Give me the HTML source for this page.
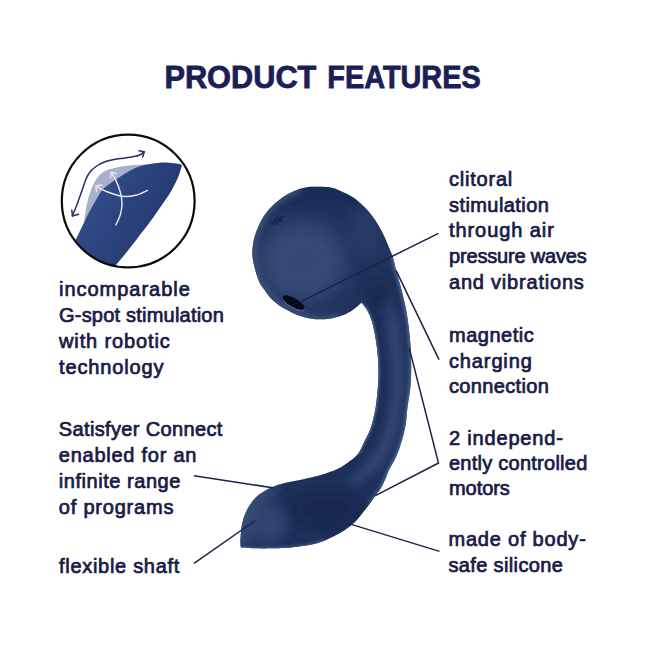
<!DOCTYPE html>
<html><head><meta charset="utf-8"><style>
html,body{margin:0;padding:0;background:#ffffff;}
svg{display:block;}
.t text{font-family:"Liberation Sans",sans-serif;font-size:20px;fill:#191b45;stroke:#191b45;stroke-width:0.72px;}
</style></head><body>
<svg width="645" height="645" viewBox="0 0 645 645">
<defs>
 <clipPath id="circClip"><circle cx="128.2" cy="201" r="66"/></clipPath>
 <linearGradient id="insetG" gradientUnits="userSpaceOnUse" x1="85" y1="185" x2="170" y2="230"><stop offset="0" stop-color="#33508c"/><stop offset="0.4" stop-color="#2b4580"/><stop offset="0.7" stop-color="#283f77"/><stop offset="1" stop-color="#1f376c"/></linearGradient>
 <clipPath id="silClip"><path d="M309.5,186.8 C313.0,186.9 324.4,186.3 330.5,187.4 C336.6,188.5 341.4,191.3 346.0,193.6 C350.6,195.9 354.5,198.3 358.4,201.4 C362.3,204.5 366.2,208.6 369.3,212.2 C372.4,215.8 374.7,219.4 377.0,223.0 C379.3,226.6 381.4,230.4 383.2,234.0 C385.0,237.6 386.3,241.1 387.9,244.8 C389.4,248.5 391.1,251.8 392.5,256.0 C393.9,260.2 394.7,265.0 396.0,270.0 C397.3,275.0 399.1,280.7 400.5,286.0 C401.9,291.3 403.3,296.7 404.5,302.0 C405.7,307.3 406.7,312.7 407.5,318.0 C408.3,323.3 408.9,328.5 409.5,334.0 C410.1,339.5 410.5,345.0 410.8,351.0 C411.1,357.0 411.3,363.8 411.2,370.0 C411.1,376.2 411.0,381.3 410.3,388.0 C409.6,394.7 407.9,404.3 407.2,410.0 C406.5,415.7 406.6,418.3 406.0,422.4 C405.4,426.5 404.5,430.7 403.5,434.8 C402.5,438.9 401.2,443.1 399.8,447.2 C398.4,451.3 396.6,455.8 394.8,459.6 C393.0,463.4 390.6,466.7 389.0,470.0 C387.4,473.3 386.7,476.2 385.3,479.3 C383.9,482.4 382.4,485.8 380.7,488.6 C379.0,491.4 377.1,493.2 375.1,496.0 C373.1,498.8 370.9,502.2 368.6,505.3 C366.3,508.4 363.8,511.6 361.2,514.7 C358.6,517.8 356.3,521.0 352.8,524.0 C349.3,527.0 344.3,530.4 340.0,533.0 C335.7,535.6 331.1,537.7 327.0,539.5 C322.9,541.3 320.7,542.5 315.1,543.8 C309.5,545.1 300.6,546.5 293.4,547.2 C286.2,548.0 278.2,548.1 271.7,548.3 C265.2,548.5 259.5,548.4 254.4,548.3 C249.3,548.2 243.2,547.7 241.0,547.6 L240.5,546 C240.5,544.7 240.2,541.8 240.5,538.0 C240.8,534.2 241.2,527.7 242.3,523.0 C243.4,518.3 245.0,514.0 247.0,510.0 C249.0,506.0 251.6,502.1 254.4,499.0 C257.2,495.9 260.3,493.8 263.7,491.6 C267.1,489.4 270.9,487.6 275.0,486.0 C279.1,484.4 283.1,483.5 288.0,482.3 C292.9,481.1 298.7,480.3 304.3,479.0 C309.9,477.7 316.2,476.3 321.6,474.7 C327.0,473.1 332.5,471.3 336.8,469.3 C341.1,467.3 344.2,465.4 347.7,462.8 C351.2,460.2 355.1,457.8 358.0,454.0 C360.9,450.2 363.1,444.0 365.1,440.0 C367.1,436.0 368.6,433.7 370.0,430.0 C371.4,426.3 372.5,422.2 373.5,418.0 C374.5,413.8 375.2,410.5 376.0,405.0 C376.8,399.5 377.6,390.8 378.0,385.0 C378.4,379.2 378.6,375.7 378.5,370.0 C378.4,364.3 377.9,356.4 377.3,350.6 C376.7,344.8 375.9,339.9 375.0,335.0 C374.1,330.1 373.2,325.3 371.9,321.2 C370.6,317.1 368.9,313.4 367.2,310.3 C365.5,307.2 362.4,304.1 361.5,302.8 C360.6,303.5 358.5,305.6 356.4,307.2 C354.2,308.8 351.5,311.1 348.6,312.6 C345.8,314.2 343.2,315.4 339.3,316.5 C335.4,317.6 329.9,318.9 325.0,319.2 C320.1,319.5 314.8,319.1 310.0,318.4 C305.2,317.6 300.3,316.1 296.5,314.7 C292.7,313.3 290.3,311.7 287.2,310.0 C284.1,308.3 280.7,306.4 277.9,304.4 C275.1,302.4 272.7,300.2 270.5,297.9 C268.3,295.6 266.8,293.1 264.9,290.5 C263.0,287.9 260.9,285.5 259.3,282.1 C257.7,278.7 256.4,274.1 255.3,270.0 C254.2,265.9 253.1,261.1 252.6,257.4 C252.1,253.7 252.3,251.4 252.6,248.0 C252.9,244.6 253.5,240.7 254.5,237.0 C255.5,233.3 256.9,229.6 258.6,225.9 C260.3,222.2 262.3,218.2 264.8,214.7 C267.3,211.2 270.2,207.9 273.5,204.8 C276.8,201.7 280.8,198.5 284.7,196.0 C288.6,193.5 292.9,191.4 297.0,189.9 C301.1,188.4 307.4,187.3 309.5,186.8 Z"/></clipPath>
 <filter id="blur3" x="-50%" y="-50%" width="200%" height="200%"><feGaussianBlur stdDeviation="3"/></filter>
 <filter id="blur6" x="-50%" y="-50%" width="200%" height="200%"><feGaussianBlur stdDeviation="6"/></filter>
 <filter id="blur14" x="-50%" y="-50%" width="200%" height="200%"><feGaussianBlur stdDeviation="14"/></filter>
 <filter id="blur10" x="-50%" y="-50%" width="200%" height="200%"><feGaussianBlur stdDeviation="10"/></filter>
 <filter id="blur2" x="-50%" y="-50%" width="200%" height="200%"><feGaussianBlur stdDeviation="1.8"/></filter>
 <filter id="blur4" x="-50%" y="-50%" width="200%" height="200%"><feGaussianBlur stdDeviation="4"/></filter>
 <filter id="blur1" x="-50%" y="-50%" width="200%" height="200%"><feGaussianBlur stdDeviation="1.2"/></filter>
</defs>

<g style="font-family:'Liberation Sans',sans-serif;font-weight:bold;font-size:30.5px;fill:#1b1f55;stroke:#1b1f55;stroke-width:0.8px">
<text x="164.4" y="87.8" textLength="152" lengthAdjust="spacingAndGlyphs">PRODUCT</text>
<text x="327.3" y="87.8" textLength="153.4" lengthAdjust="spacingAndGlyphs">FEATURES</text>
</g>

<!-- inset circle -->
<g clip-path="url(#circClip)">
 <path d="M84.0,226.0 C84.2,224.1 84.5,218.7 85.0,214.8 C85.5,210.9 86.3,206.5 87.3,202.4 C88.3,198.3 89.5,193.8 91.0,190.0 C92.5,186.2 93.9,182.8 96.0,179.7 C98.1,176.6 100.4,173.6 103.5,171.7 C106.6,169.8 110.3,169.0 114.6,168.0 C118.9,167.0 123.6,166.1 129.5,165.5 C135.4,164.9 144.1,164.6 150.0,164.3 C155.9,164.0 162.5,163.6 165.0,163.5 L165,175 L100,215 Z" fill="#a7b1cc"/>
 <path d="M144.1,165.1 C146.4,164.8 156.9,162.8 161.2,162.6 C165.5,162.4 173.3,163.2 176.0,163.5 C178.7,163.8 181.0,164.2 181.6,165.1 C182.2,166.0 181.0,168.4 180.5,170.0 C180.0,171.6 179.4,174.3 178.2,177.1 C177.0,179.9 173.7,186.8 171.4,190.7 C169.1,194.6 164.2,201.7 161.2,206.0 C158.2,210.3 152.4,218.8 149.2,223.1 C146.0,227.4 140.5,234.4 137.3,238.5 C134.1,242.6 128.1,250.4 125.4,253.8 C122.7,257.2 119.1,261.0 116.8,264.0 C114.5,267.0 109.2,274.4 108.0,276.0 L60,276 L70,250 C76.7,238.2 78.5,234.1 79.9,231.0 C81.4,227.9 83.2,224.3 84.8,221.0 C86.4,217.7 87.9,214.6 89.8,211.1 C91.7,207.6 93.9,203.4 96.0,199.9 C98.1,196.4 100.0,192.7 102.2,190.0 C104.5,187.3 106.5,186.2 109.5,184.0 C112.5,181.8 116.4,179.0 120.4,176.5 C124.4,174.0 129.5,170.9 133.4,169.0 C137.3,167.1 142.3,165.8 144.1,165.1 Z" fill="url(#insetG)"/>
 <path d="M72.4,216.0 C73.2,213.9 75.7,207.9 77.4,203.4 C79.1,198.9 81.1,193.1 82.5,189.0 C83.9,184.9 84.8,181.8 86.0,179.0 C87.2,176.2 88.3,174.1 90.0,172.0 C91.7,169.9 93.5,168.2 96.0,166.5 C98.5,164.8 102.0,163.0 105.0,161.8 C108.0,160.7 110.4,160.3 114.0,159.6 C117.6,158.9 122.5,158.4 126.5,157.7 C130.6,157.0 135.4,156.5 138.3,155.5 C141.2,154.5 143.2,152.4 144.2,151.8" fill="none" stroke="#282d66" stroke-width="1.5" stroke-linecap="round"/>
 <path d="M71.8,210 L72.4,216 L78.6,214.2 M139,150.8 L144.2,151.8 L142.7,157" fill="none" stroke="#282d66" stroke-width="1.5" stroke-linecap="round" stroke-linejoin="round"/>
 <path d="M111.2,172.5 C112.0,173.8 114.5,177.3 116.0,180.6 C117.5,183.9 119.4,188.7 120.4,192.5 C121.4,196.3 122.0,199.8 122.0,203.4 C122.0,207.0 121.4,210.6 120.4,214.2 C119.4,217.8 116.7,223.2 116.0,225.0" fill="none" stroke="#e4e9f3" stroke-width="1.4" stroke-linecap="round"/>
 <path d="M96.0,186.0 C97.7,186.9 101.9,189.8 106.3,191.5 C110.7,193.2 117.6,195.7 122.5,196.3 C127.4,196.9 131.4,196.3 135.6,195.3 C139.8,194.3 145.5,191.2 147.5,190.4" fill="none" stroke="#e4e9f3" stroke-width="1.4" stroke-linecap="round"/>
 <path d="M110.6,177.4 L111.2,172.5 L116.6,173.6 M96.5,191.5 L96,186 L102,185" fill="none" stroke="#e4e9f3" stroke-width="1.4" stroke-linecap="round" stroke-linejoin="round"/>
</g>
<circle cx="128.2" cy="201" r="66.4" fill="none" stroke="#0c0c0c" stroke-width="2.2"/>

<!-- device -->
<path d="M309.5,186.8 C313.0,186.9 324.4,186.3 330.5,187.4 C336.6,188.5 341.4,191.3 346.0,193.6 C350.6,195.9 354.5,198.3 358.4,201.4 C362.3,204.5 366.2,208.6 369.3,212.2 C372.4,215.8 374.7,219.4 377.0,223.0 C379.3,226.6 381.4,230.4 383.2,234.0 C385.0,237.6 386.3,241.1 387.9,244.8 C389.4,248.5 391.1,251.8 392.5,256.0 C393.9,260.2 394.7,265.0 396.0,270.0 C397.3,275.0 399.1,280.7 400.5,286.0 C401.9,291.3 403.3,296.7 404.5,302.0 C405.7,307.3 406.7,312.7 407.5,318.0 C408.3,323.3 408.9,328.5 409.5,334.0 C410.1,339.5 410.5,345.0 410.8,351.0 C411.1,357.0 411.3,363.8 411.2,370.0 C411.1,376.2 411.0,381.3 410.3,388.0 C409.6,394.7 407.9,404.3 407.2,410.0 C406.5,415.7 406.6,418.3 406.0,422.4 C405.4,426.5 404.5,430.7 403.5,434.8 C402.5,438.9 401.2,443.1 399.8,447.2 C398.4,451.3 396.6,455.8 394.8,459.6 C393.0,463.4 390.6,466.7 389.0,470.0 C387.4,473.3 386.7,476.2 385.3,479.3 C383.9,482.4 382.4,485.8 380.7,488.6 C379.0,491.4 377.1,493.2 375.1,496.0 C373.1,498.8 370.9,502.2 368.6,505.3 C366.3,508.4 363.8,511.6 361.2,514.7 C358.6,517.8 356.3,521.0 352.8,524.0 C349.3,527.0 344.3,530.4 340.0,533.0 C335.7,535.6 331.1,537.7 327.0,539.5 C322.9,541.3 320.7,542.5 315.1,543.8 C309.5,545.1 300.6,546.5 293.4,547.2 C286.2,548.0 278.2,548.1 271.7,548.3 C265.2,548.5 259.5,548.4 254.4,548.3 C249.3,548.2 243.2,547.7 241.0,547.6 L240.5,546 C240.5,544.7 240.2,541.8 240.5,538.0 C240.8,534.2 241.2,527.7 242.3,523.0 C243.4,518.3 245.0,514.0 247.0,510.0 C249.0,506.0 251.6,502.1 254.4,499.0 C257.2,495.9 260.3,493.8 263.7,491.6 C267.1,489.4 270.9,487.6 275.0,486.0 C279.1,484.4 283.1,483.5 288.0,482.3 C292.9,481.1 298.7,480.3 304.3,479.0 C309.9,477.7 316.2,476.3 321.6,474.7 C327.0,473.1 332.5,471.3 336.8,469.3 C341.1,467.3 344.2,465.4 347.7,462.8 C351.2,460.2 355.1,457.8 358.0,454.0 C360.9,450.2 363.1,444.0 365.1,440.0 C367.1,436.0 368.6,433.7 370.0,430.0 C371.4,426.3 372.5,422.2 373.5,418.0 C374.5,413.8 375.2,410.5 376.0,405.0 C376.8,399.5 377.6,390.8 378.0,385.0 C378.4,379.2 378.6,375.7 378.5,370.0 C378.4,364.3 377.9,356.4 377.3,350.6 C376.7,344.8 375.9,339.9 375.0,335.0 C374.1,330.1 373.2,325.3 371.9,321.2 C370.6,317.1 368.9,313.4 367.2,310.3 C365.5,307.2 362.4,304.1 361.5,302.8 C360.6,303.5 358.5,305.6 356.4,307.2 C354.2,308.8 351.5,311.1 348.6,312.6 C345.8,314.2 343.2,315.4 339.3,316.5 C335.4,317.6 329.9,318.9 325.0,319.2 C320.1,319.5 314.8,319.1 310.0,318.4 C305.2,317.6 300.3,316.1 296.5,314.7 C292.7,313.3 290.3,311.7 287.2,310.0 C284.1,308.3 280.7,306.4 277.9,304.4 C275.1,302.4 272.7,300.2 270.5,297.9 C268.3,295.6 266.8,293.1 264.9,290.5 C263.0,287.9 260.9,285.5 259.3,282.1 C257.7,278.7 256.4,274.1 255.3,270.0 C254.2,265.9 253.1,261.1 252.6,257.4 C252.1,253.7 252.3,251.4 252.6,248.0 C252.9,244.6 253.5,240.7 254.5,237.0 C255.5,233.3 256.9,229.6 258.6,225.9 C260.3,222.2 262.3,218.2 264.8,214.7 C267.3,211.2 270.2,207.9 273.5,204.8 C276.8,201.7 280.8,198.5 284.7,196.0 C288.6,193.5 292.9,191.4 297.0,189.9 C301.1,188.4 307.4,187.3 309.5,186.8 Z" fill="#22345e"/>
<g clip-path="url(#silClip)">
 <ellipse cx="302" cy="262" rx="44" ry="40" fill="#394c77" filter="url(#blur10)" opacity="0.95"/>
 <ellipse cx="322" cy="196" rx="46" ry="12" fill="#172a55" filter="url(#blur6)" opacity="0.8"/>
 <ellipse cx="365" cy="232" rx="16" ry="26" fill="#2a3d68" filter="url(#blur6)" opacity="0.7"/>
 <path d="M300.0,189.0 C297.4,190.2 289.1,193.4 284.7,196.0 C280.3,198.6 276.8,201.7 273.5,204.8 C270.2,207.9 267.3,211.2 264.8,214.7 C262.3,218.2 260.3,222.2 258.6,225.9 C256.9,229.6 255.5,233.3 254.5,237.0 C253.5,240.7 252.9,244.6 252.6,248.0 C252.3,251.4 252.1,253.7 252.6,257.4 C253.1,261.1 254.2,265.9 255.3,270.0 C256.4,274.1 257.7,278.7 259.3,282.1 C260.9,285.5 263.0,287.9 264.9,290.5 C266.8,293.1 268.3,295.6 270.5,297.9 C272.7,300.2 275.1,302.4 277.9,304.4 C280.7,306.4 284.1,308.3 287.2,310.0 C290.3,311.7 292.7,313.3 296.5,314.7 C300.3,316.1 305.2,317.6 310.0,318.4 C314.8,319.1 320.1,319.5 325.0,319.2 C329.9,318.9 336.9,316.9 339.3,316.5" fill="none" stroke="#41577f" stroke-width="6" filter="url(#blur3)"/>
 <path d="M385.0,300.0 C386.2,303.7 390.2,314.0 392.0,322.0 C393.8,330.0 395.0,339.2 396.0,348.0 C397.0,356.8 398.0,365.5 398.0,375.0 C398.0,384.5 397.2,395.8 396.0,405.0 C394.8,414.2 393.3,422.2 391.0,430.0 C388.7,437.8 385.8,445.3 382.0,452.0 C378.2,458.7 373.3,464.7 368.0,470.0 C362.7,475.3 353.0,481.7 350.0,484.0" fill="none" stroke="#354a76" stroke-width="9" filter="url(#blur4)"/>
 <path d="M371.0,318.0 C372.0,320.5 375.5,327.3 377.0,333.0 C378.5,338.7 379.2,345.0 380.0,352.0 C380.8,359.0 381.8,367.0 382.0,375.0 C382.2,383.0 381.8,392.2 381.0,400.0 C380.2,407.8 378.8,415.3 377.0,422.0 C375.2,428.7 372.8,434.3 370.0,440.0 C367.2,445.7 364.2,451.3 360.0,456.0 C355.8,460.7 347.5,466.0 345.0,468.0" fill="none" stroke="#1b2b53" stroke-width="6" filter="url(#blur3)"/>
 <ellipse cx="377" cy="298" rx="12" ry="18" fill="#16264c" filter="url(#blur10)" opacity="0.9"/>
 <path d="M392.5,256.0 C393.1,258.3 394.7,265.0 396.0,270.0 C397.3,275.0 399.1,280.7 400.5,286.0 C401.9,291.3 403.3,296.7 404.5,302.0 C405.7,307.3 406.7,312.7 407.5,318.0 C408.3,323.3 408.9,328.5 409.5,334.0 C410.1,339.5 410.5,345.0 410.8,351.0 C411.1,357.0 411.3,363.8 411.2,370.0 C411.1,376.2 411.0,381.3 410.3,388.0 C409.6,394.7 407.9,404.3 407.2,410.0 C406.5,415.7 406.6,418.3 406.0,422.4 C405.4,426.5 404.5,430.7 403.5,434.8 C402.5,438.9 401.2,443.1 399.8,447.2 C398.4,451.3 396.6,455.8 394.8,459.6 C393.0,463.4 390.6,466.7 389.0,470.0 C387.4,473.3 386.7,476.2 385.3,479.3 C383.9,482.4 382.4,485.8 380.7,488.6 C379.0,491.4 377.1,493.2 375.1,496.0 C373.1,498.8 369.7,503.8 368.6,505.3" fill="none" stroke="#475f8c" stroke-width="4" filter="url(#blur2)"/>
 <path d="M361.5,302.8 C362.4,304.1 365.5,307.2 367.2,310.3 C368.9,313.4 370.6,317.1 371.9,321.2 C373.2,325.3 374.1,330.1 375.0,335.0 C375.9,339.9 376.7,344.8 377.3,350.6 C377.9,356.4 378.4,364.3 378.5,370.0 C378.6,375.7 378.4,379.2 378.0,385.0 C377.6,390.8 376.8,399.5 376.0,405.0 C375.2,410.5 374.5,413.8 373.5,418.0 C372.5,422.2 371.4,426.3 370.0,430.0 C368.6,433.7 367.1,436.0 365.1,440.0 C363.1,444.0 359.2,451.7 358.0,454.0" fill="none" stroke="#475f8e" stroke-width="3" filter="url(#blur1)"/>
 <ellipse cx="326" cy="510" rx="46" ry="24" fill="#17284e" filter="url(#blur14)" opacity="0.95"/>
 <ellipse cx="266" cy="522" rx="22" ry="20" fill="#33466f" filter="url(#blur6)" opacity="0.9"/>
 <path d="M241.0,547.6 C243.2,547.7 249.3,548.2 254.4,548.3 C259.5,548.4 265.2,548.5 271.7,548.3 C278.2,548.1 286.2,548.0 293.4,547.2 C300.6,546.4 309.8,544.8 315.1,543.5 C320.4,542.2 323.4,540.2 325.0,539.5" fill="none" stroke="#3a4f80" stroke-width="3" filter="url(#blur1)"/>
 <path d="M240.5,546.0 C240.5,544.7 240.2,541.8 240.5,538.0 C240.8,534.2 241.2,527.7 242.3,523.0 C243.4,518.3 245.0,514.0 247.0,510.0 C249.0,506.0 251.6,502.1 254.4,499.0 C257.2,495.9 260.3,493.8 263.7,491.6 C267.1,489.4 273.1,486.9 275.0,486.0" fill="none" stroke="#3a4f7c" stroke-width="12" filter="url(#blur6)"/>
 <path d="M264.0,283.0 C266.7,283.2 274.0,284.1 280.0,284.5 C286.0,284.9 293.7,285.2 300.0,285.5 C306.3,285.8 315.0,285.9 318.0,286.0" fill="none" stroke="#3d5283" stroke-width="1" opacity="0.5"/>
</g>
<g transform="rotate(30 293.7 302.6)">
 <ellipse cx="294.2" cy="303.3" rx="12.4" ry="5" fill="#7d90bb" opacity="0.55"/>
 <ellipse cx="293.7" cy="302.6" rx="12.4" ry="4.5" fill="#080b1c"/>
</g>
<path d="M271.3,222.6 L272.6,223.4 M273,224 C274.5,220.5 276,217.8 278.8,216.4 M276,224.4 C277.6,220.8 279.6,217.6 283.6,216.3 M279.6,220.9 L281.9,220.3" fill="none" stroke="#17244c" stroke-width="1.9" stroke-linecap="round" opacity="0.9"/>

<!-- callout lines -->
<g stroke="#1f2045" stroke-width="1.5" fill="none">
 <line x1="301.5" y1="301.3" x2="438.4" y2="233.4"/>
 <line x1="396" y1="270.4" x2="439" y2="359.7"/>
 <polyline points="409.2,347.9 438.5,463 374.9,495.8"/>
 <line x1="351.2" y1="524.4" x2="439.5" y2="551.4"/>
 <line x1="194" y1="475.8" x2="274" y2="487.9"/>
 <line x1="194" y1="563.3" x2="255.3" y2="520.5"/>
</g>

<g class="t">
<text x="59" y="296" textLength="130.8" lengthAdjust="spacing">incomparable</text>
<text x="59" y="322" textLength="164.8" lengthAdjust="spacing">G-spot stimulation</text>
<text x="59" y="348" textLength="110.8" lengthAdjust="spacing">with robotic</text>
<text x="59" y="373.7" textLength="104.4" lengthAdjust="spacing">technology</text>
<text x="58.8" y="436" textLength="163.6" lengthAdjust="spacing">Satisfyer Connect</text>
<text x="58.8" y="461.6" textLength="137.6" lengthAdjust="spacing">enabled for an</text>
<text x="58.8" y="487.8" textLength="121.6" lengthAdjust="spacing">infinite range</text>
<text x="58.8" y="513.9" textLength="114.6" lengthAdjust="spacing">of programs</text>
<text x="59" y="573.3" textLength="120.3" lengthAdjust="spacing">flexible shaft</text>
<text x="449" y="185.5" textLength="63.3" lengthAdjust="spacing">clitoral</text>
<text x="449" y="211.5" textLength="99.8" lengthAdjust="spacing">stimulation</text>
<text x="449" y="237.4" textLength="104.8" lengthAdjust="spacing">through air</text>
<text x="449" y="263.4" textLength="137.8" lengthAdjust="spacing">pressure waves</text>
<text x="449" y="289.4" textLength="134.8" lengthAdjust="spacing">and vibrations</text>
<text x="449" y="341.9" textLength="84.8" lengthAdjust="spacing">magnetic</text>
<text x="449" y="367.8" textLength="82.8" lengthAdjust="spacing">charging</text>
<text x="449" y="393.3" textLength="99.8" lengthAdjust="spacing">connection</text>
<text x="449" y="444.5" textLength="113.8" lengthAdjust="spacing">2 independ-</text>
<text x="449" y="470.3" textLength="138.3" lengthAdjust="spacing">ently controlled</text>
<text x="449" y="494.6" textLength="60.8" lengthAdjust="spacing">motors</text>
<text x="448.5" y="546.3" textLength="137.3" lengthAdjust="spacing">made of body-</text>
<text x="448.5" y="572.3" textLength="114.3" lengthAdjust="spacing">safe silicone</text>
</g>
</svg>
</body></html>
